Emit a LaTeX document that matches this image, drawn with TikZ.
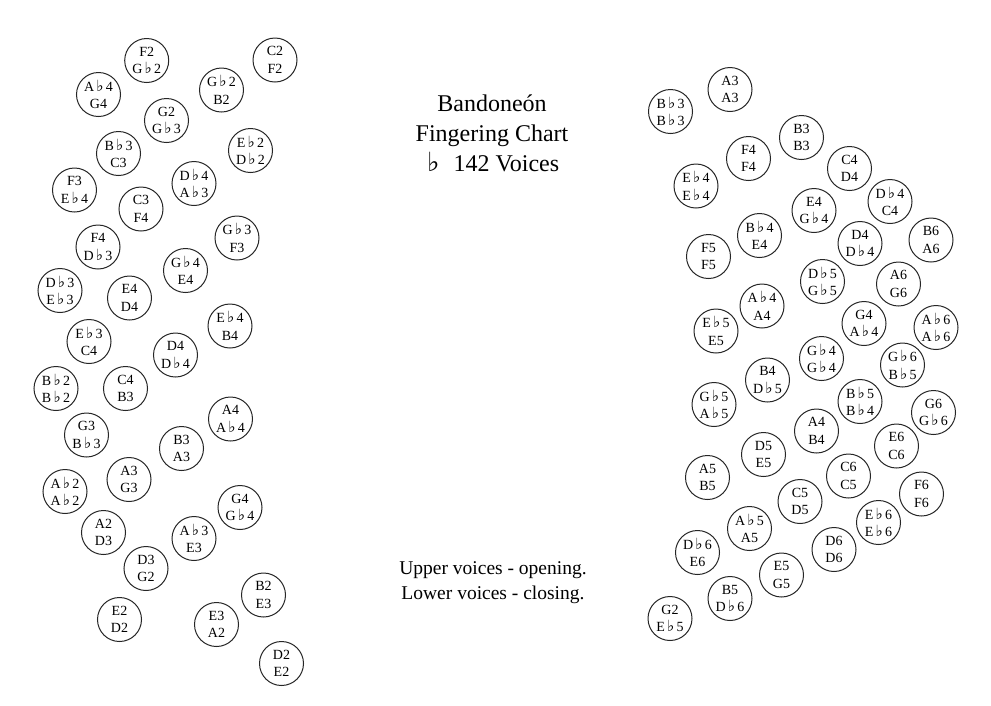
\documentclass[tikz,border=0pt]{standalone}
\usepackage{fontspec}
\setmainfont{Liberation Serif}
\newfontfamily\symfont{DejaVu Sans}
\newcommand\flt{\kern2.2pt{\symfont\scalebox{1.1}{♭}}\kern2.2pt}
\tikzset{
  btn/.style={circle, draw=black!85, line width=1pt, minimum size=44pt, inner sep=0pt,
    align=center, font=\fontsize{14}{17.5}\selectfont},
  bigtext/.style={align=center, font=\fontsize{24}{30}\selectfont, inner sep=0pt},
  notetext/.style={align=center, font=\fontsize{19.5}{25}\selectfont, inner sep=0pt}
}
\newcommand\btnat[4]{\node[btn] (#1) at (#2) {#3\\#4};}
\begin{document}
\begin{tikzpicture}[x=1pt,y=-1pt]
\useasboundingbox (0,0) rectangle (991,705);
% left hand
\btnat{l1}{146.7,60.5}{F2}{G\flt2}
\btnat{l2}{275,60}{C2}{F2}
\btnat{l3}{98.5,94.5}{A\flt4}{G4}
\btnat{l4}{221.5,90}{G\flt2}{B2}
\btnat{l5}{166.5,120.5}{G2}{G\flt3}
\btnat{l6}{250.5,150.5}{E\flt2}{D\flt2}
\btnat{l7}{118.5,153.5}{B\flt3}{C3}
\btnat{l8}{74.5,190}{F3}{E\flt4}
\btnat{l9}{194,183.5}{D\flt4}{A\flt3}
\btnat{l10}{141,209}{C3}{F4}
\btnat{l11}{237,238}{G\flt3}{F3}
\btnat{l12}{98,247}{F4}{D\flt3}
\btnat{l13}{185.5,270.5}{G\flt4}{E4}
\btnat{l14}{60,290.5}{D\flt3}{E\flt3}
\btnat{l15}{129.5,298}{E4}{D4}
\btnat{l16}{230,326}{E\flt4}{B4}
\btnat{l17}{89,341.5}{E\flt3}{C4}
\btnat{l18}{175.5,355}{D4}{D\flt4}
\btnat{l19}{56,388.5}{B\flt2}{B\flt2}
\btnat{l20}{125.5,388.5}{C4}{B3}
\btnat{l21}{230.5,419}{A4}{A\flt4}
\btnat{l22}{86.5,435}{G3}{B\flt3}
\btnat{l23}{181.5,448.5}{B3}{A3}
\btnat{l24}{129,479.5}{A3}{G3}
\btnat{l25}{65,491.5}{A\flt2}{A\flt2}
\btnat{l26}{240,507.5}{G4}{G\flt4}
\btnat{l27}{103.5,532.5}{A2}{D3}
\btnat{l28}{194,538.5}{A\flt3}{E3}
\btnat{l29}{146,568.5}{D3}{G2}
\btnat{l30}{263.5,595}{B2}{E3}
\btnat{l31}{119.5,619.5}{E2}{D2}
\btnat{l32}{216.5,624.5}{E3}{A2}
\btnat{l33}{281.5,663.5}{D2}{E2}
% right hand
\btnat{r1}{670.5,111.5}{B\flt3}{B\flt3}
\btnat{r2}{730,89.5}{A3}{A3}
\btnat{r3}{801.5,137.5}{B3}{B3}
\btnat{r4}{748.5,158.5}{F4}{F4}
\btnat{r5}{849.5,168.5}{C4}{D4}
\btnat{r6}{696,186}{E\flt4}{E\flt4}
\btnat{r7}{890,201.5}{D\flt4}{C4}
\btnat{r8}{814,210.5}{E4}{G\flt4}
\btnat{r9}{759.5,235.5}{B\flt4}{E4}
\btnat{r10}{860,243.5}{D4}{D\flt4}
\btnat{r11}{931,240}{B6}{A6}
\btnat{r12}{708.5,256.5}{F5}{F5}
\btnat{r13}{822.5,281.5}{D\flt5}{G\flt5}
\btnat{r14}{898.5,284}{A6}{G6}
\btnat{r15}{762,306}{A\flt4}{A4}
\btnat{r16}{864,323.5}{G4}{A\flt4}
\btnat{r17}{716,331}{E\flt5}{E5}
\btnat{r18}{936,327.5}{A\flt6}{A\flt6}
\btnat{r19}{821.5,358.5}{G\flt4}{G\flt4}
\btnat{r20}{902.5,365}{G\flt6}{B\flt5}
\btnat{r21}{767.5,380}{B4}{D\flt5}
\btnat{r22}{714,404.5}{G\flt5}{A\flt5}
\btnat{r23}{860,401.5}{B\flt5}{B\flt4}
\btnat{r24}{933.5,412.5}{G6}{G\flt6}
\btnat{r25}{816.5,431}{A4}{B4}
\btnat{r26}{896.5,446}{E6}{C6}
\btnat{r27}{763.5,454.5}{D5}{E5}
\btnat{r28}{707.5,477.5}{A5}{B5}
\btnat{r29}{848.5,476}{C6}{C5}
\btnat{r30}{921.5,494}{F6}{F6}
\btnat{r31}{800,501.5}{C5}{D5}
\btnat{r32}{749.5,528.5}{A\flt5}{A5}
\btnat{r33}{878.5,522.5}{E\flt6}{E\flt6}
\btnat{r34}{697.5,552.5}{D\flt6}{E6}
\btnat{r35}{834,549.5}{D6}{D6}
\btnat{r36}{781.5,575}{E5}{G5}
\btnat{r37}{730,598.5}{B5}{D\flt6}
\btnat{r38}{670,618.5}{G2}{E\flt5}
% texts
\node[bigtext] (title) at (492,133) {Bandone\'on\\Fingering Chart\\\flt\ \ 142 Voices};
\node[notetext] (note) at (493,583) {Upper voices - opening.\\Lower voices - closing.};
\end{tikzpicture}
\end{document}
